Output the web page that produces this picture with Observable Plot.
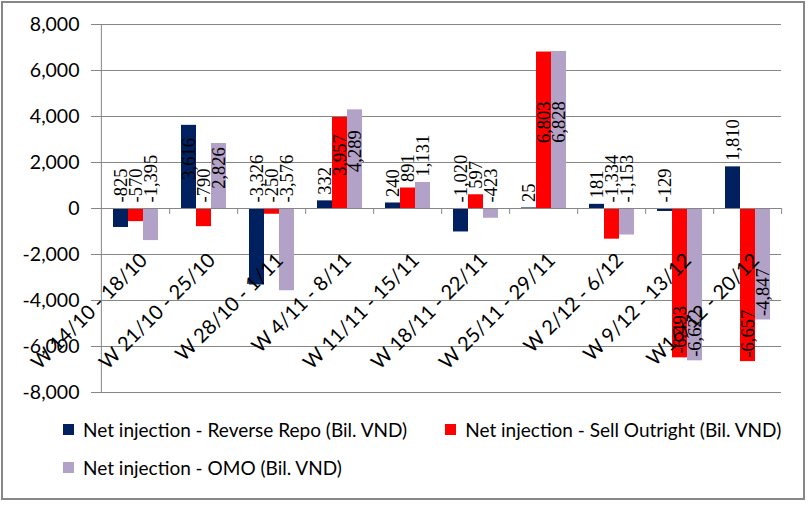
<!DOCTYPE html>
<html><head><meta charset="utf-8">
<script src="https://cdn.jsdelivr.net/npm/d3@7"></script>
<script src="https://cdn.jsdelivr.net/npm/@observablehq/plot@0.6"></script>
<style>
body{margin:0;background:#fff;}
#wrap{position:relative;width:811px;height:506px;overflow:hidden;background:#fff;}
#border{position:absolute;left:1px;top:1px;width:804px;height:499px;box-sizing:border-box;border:2px solid #878787;pointer-events:none;}
#chart{position:absolute;left:0;top:0;}
#legend{position:absolute;left:63px;top:419px;width:735px;}
#legend .lg-swatches{font-family:Lato,sans-serif;font-size:19px;color:#000;margin:0;min-height:0;column-gap:38px;row-gap:18px;}
#legend .lg-swatch{margin-right:0 !important;height:20px;}
#legend .lg-swatch > svg{margin-right:9px !important;}
</style></head>
<body><div id="wrap"><div id="chart"></div><div id="legend"></div><div id="border"></div></div>
<script>
const weeks = ["W 14/10 - 18/10", "W 21/10 - 25/10", "W 28/10 - 1/11", "W 4/11 - 8/11", "W 11/11 - 15/11",
  "W 18/11 - 22/11", "W 25/11 - 29/11", "W 2/12 - 6/12", "W 9/12 - 13/12", "W16/12 - 20/12"];
const seriesNames = ["Net injection - Reverse Repo (Bil. VND)", "Net injection - Sell Outright (Bil. VND)", "Net injection - OMO (Bil. VND)"];
const reverseRepo = [-825, 3616, -3326, 332, 240, -1020, 25, 181, -129, 1810];
const sellOutright = [-570, -790, -250, 3957, 891, 597, 6803, -1334, -6493, -6657];
const omo = [-1395, 2826, -3576, 4289, 1131, -423, 6828, -1153, -6622, -4847];
const yTicks = [-8000, -6000, -4000, -2000, 0, 2000, 4000, 6000, 8000];
const seriesColors = ["#002060", "#FF0000", "#B3A2C7"];

const seriesValues = [reverseRepo, sellOutright, omo];
const rows = [];
weeks.forEach((w, i) => seriesNames.forEach((s, j) => rows.push({week: w, series: s, value: seriesValues[j][i]})));

const W = 811, H = 410, mL = 99, mR = 29, mT = 24, mB = 18;
const bw = (W - mL - mR) / weeks.length;
const fmt = v => v.toLocaleString("en-US");
const gray = "#868686";

// data-label placement rule (Excel-like)
const labelMid = rows.filter(d => d.value > 2500);
const labelUp = rows.filter(d => d.value <= 2500 && d.value >= -4500);
const labelDeep = rows.filter(d => d.value < -4500);
const lblStyle = {fx: "week", x: "series", text: d => fmt(d.value), rotate: -90, fontFamily: "Liberation Serif", fontSize: 18.5, fill: "#000"};

const chart = Plot.plot({
  width: W, height: H, marginLeft: mL, marginRight: mR, marginTop: mT, marginBottom: mB,
  style: {fontFamily: "Lato, sans-serif", background: "transparent", overflow: "visible"},
  fx: {domain: weeks, padding: 0, axis: null},
  x: {domain: seriesNames, paddingInner: 0, paddingOuter: 0.73, axis: null},
  y: {domain: [-8000, 8000], axis: null},
  color: {domain: seriesNames, range: seriesColors},
  marks: [
    Plot.gridY(yTicks, {stroke: gray, strokeOpacity: 1}),
    Plot.ruleX([null], {x: null, dx: -bw / 2, stroke: gray, facetAnchor: "left"}),
    Plot.axisY(yTicks, {anchor: "left", label: null, tickSize: 10, tickPadding: 12, tickFormat: fmt, fontSize: 19.5, stroke: gray, fill: "#000", facetAnchor: "left"}),
    Plot.barY(rows, {fx: "week", x: "series", y: "value", fill: "series"}),
    Plot.ruleY([0], {stroke: gray}),
    Plot.ruleX(weeks, {fx: d => d, x: null, y1: () => 0, y2: () => 0, dx: bw / 2, insetBottom: -6, stroke: gray}),
    Plot.text(weeks, {fx: d => d, y: () => 0, text: d => d, rotate: -45, textAnchor: "end", lineAnchor: "top", dx: 3, dy: 43, fontSize: 20, fill: "#000"}),
    Plot.text(labelUp, {...lblStyle, y: d => Math.max(0, d.value), textAnchor: "start", dy: -6}),
    Plot.text(labelMid, {...lblStyle, y: d => d.value / 2, textAnchor: "middle", dy: -8}),
    Plot.text(labelDeep, {...lblStyle, y: "value", textAnchor: "start", dy: -4})
  ]
});
document.getElementById("chart").append(chart);

const legend = Plot.legend({
  color: {domain: seriesNames, range: seriesColors},
  legend: "swatches", swatchSize: 11, className: "lg"
});
document.getElementById("legend").append(legend);
</script>
</body></html>
